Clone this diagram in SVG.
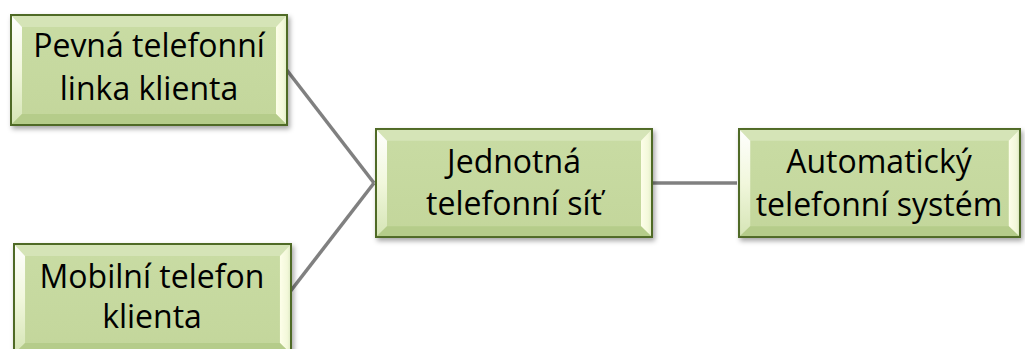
<svg xmlns="http://www.w3.org/2000/svg" xmlns:xlink="http://www.w3.org/1999/xlink" width="1025" height="349" viewBox="0 0 1025 349">
  <style>
    .lbl { font-family: "Open Sans", "Liberation Sans", sans-serif; font-size: 32px; fill: #000; text-anchor: middle; }
    .conn { stroke: #808080; stroke-width: 3.5; fill: none; stroke-linecap: butt; }
  </style>
  <defs>
    <filter id="shadow" x="-10%" y="-10%" width="125%" height="130%">
      <feDropShadow dx="2" dy="3" stdDeviation="2.5" flood-color="#000" flood-opacity="0.35"/>
    </filter>
    <linearGradient id="leftBevel" x1="0" y1="0" x2="0" y2="1">
      <stop offset="0" stop-color="#ffffff"/>
      <stop offset="0.5" stop-color="#f1f7dc"/>
      <stop offset="1" stop-color="#d4e4b4"/>
    </linearGradient>
    <linearGradient id="rightBevel" x1="0" y1="0" x2="1" y2="0">
      <stop offset="0" stop-color="#fdfee9"/>
      <stop offset="0.6" stop-color="#f3f8da"/>
      <stop offset="1" stop-color="#d9e7be"/>
    </linearGradient>
    <linearGradient id="face" x1="0" y1="0" x2="0" y2="1">
      <stop offset="0" stop-color="#c9dca4"/>
      <stop offset="1" stop-color="#c3d69b"/>
    </linearGradient>
    <!-- bevelled green box, 278 x 112 -->
    <symbol id="bevelBox" viewBox="0 0 278 112" preserveAspectRatio="none">
      <rect x="0" y="0" width="278" height="112" fill="url(#face)"/>
      <polygon points="0,0 278,0 266,13 12,13" fill="#d5e4b7"/>
      <polygon points="0,0 12,13 12,100 0,112" fill="url(#leftBevel)"/>
      <polygon points="278,0 278,112 266,100 266,13" fill="url(#rightBevel)"/>
      <polygon points="0,112 12,100 266,100 278,112" fill="#b5cc8a"/>
      <rect x="1" y="1" width="276" height="110" fill="none" stroke="#4f6a26" stroke-width="2"/>
    </symbol>
  </defs>

  <!-- connectors -->
  <g id="connectors">
    <line class="conn" x1="286" y1="69" x2="374" y2="183"/>
    <line class="conn" x1="286" y1="297" x2="374" y2="183"/>
    <line class="conn" x1="653" y1="183" x2="737" y2="183"/>
  </g>

  <g id="pevna-linka">
    <use xlink:href="#bevelBox" x="10" y="14" width="278" height="112" filter="url(#shadow)"/>
    <text class="lbl" x="149" y="57">Pevná telefonní</text>
    <text class="lbl" x="149" y="100">linka klienta</text>
  </g>

  <g id="mobilni-telefon">
    <use xlink:href="#bevelBox" x="13" y="243" width="279" height="112" filter="url(#shadow)"/>
    <text class="lbl" x="152" y="288">Mobilní telefon</text>
    <text class="lbl" x="152" y="328">klienta</text>
  </g>

  <g id="jednotna-sit">
    <use xlink:href="#bevelBox" x="375" y="128" width="278" height="110" filter="url(#shadow)"/>
    <text class="lbl" x="514" y="173">Jednotná</text>
    <text class="lbl" x="514" y="215">telefonní síť</text>
  </g>

  <g id="automaticky-system">
    <use xlink:href="#bevelBox" x="738" y="128" width="283" height="110" filter="url(#shadow)"/>
    <text class="lbl" x="879" y="173">Automatický</text>
    <text class="lbl" x="879" y="216">telefonní systém</text>
  </g>
</svg>
